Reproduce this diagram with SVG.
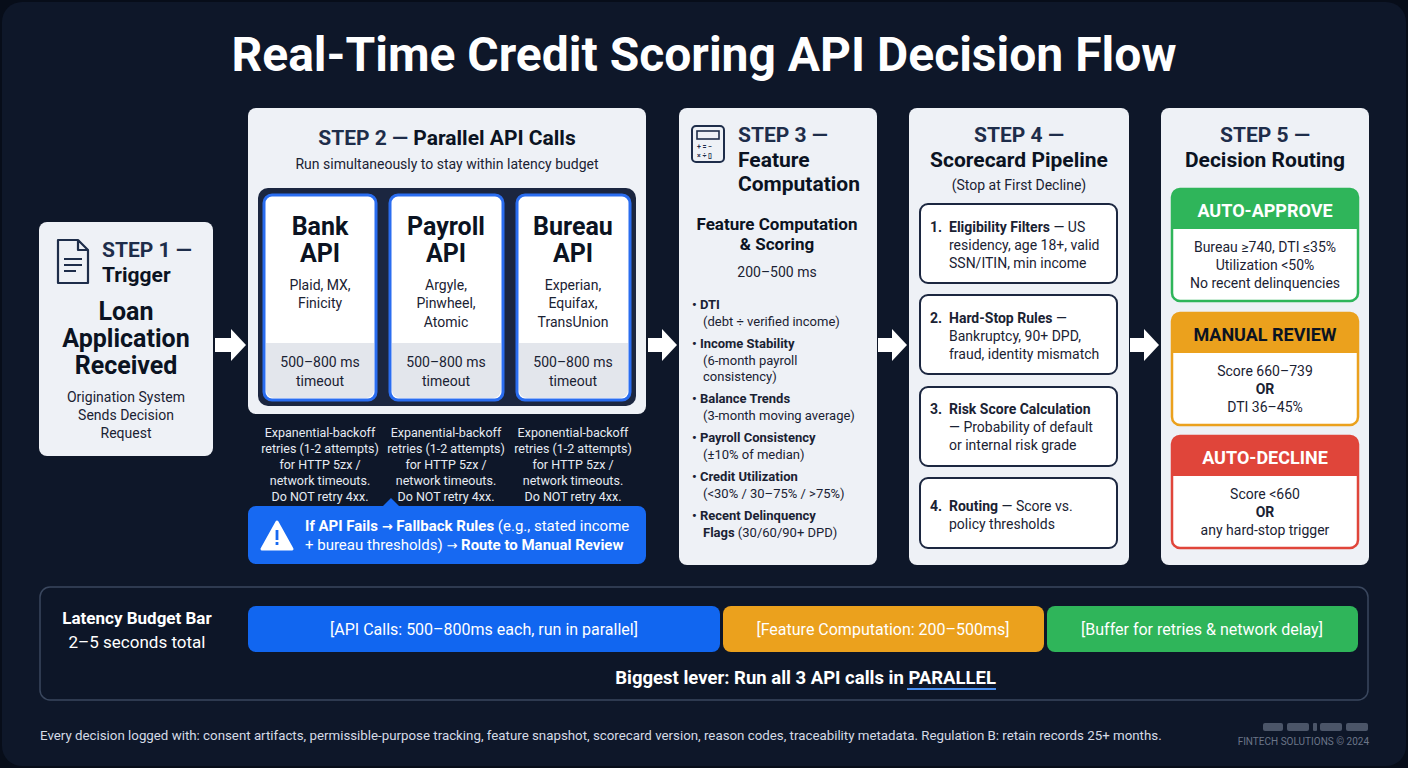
<svg xmlns="http://www.w3.org/2000/svg" width="1408" height="768" viewBox="0 0 1408 768">
<style>
text{font-family:Roboto,"Liberation Sans",sans-serif}
.card{fill:#eef1f6}
.hd{fill:#1e2d4a;font-weight:700;font-size:21px}
.hb{fill:#0b1322;font-weight:700}
.tx{fill:#1a2233;font-size:14px}
.wt{fill:#ffffff}
.sm{fill:#e6ebf3;font-size:12.5px}
.api{fill:#ffffff;stroke:#2a6df0;stroke-width:3}
.pb{fill:#ffffff;stroke:#1c2740;stroke-width:2}
.bl{fill:#1a2233;font-size:13px}
.ar{font-family:"DejaVu Sans",sans-serif;font-size:13px}
</style>
<rect width="1408" height="768" fill="#070d19"/>
<rect x="2" y="2" width="1404" height="764" rx="20" fill="#0e1729"/>
<text x="704" y="71" text-anchor="middle" class="wt" font-size="48" font-weight="700">Real-Time Credit Scoring API Decision Flow</text>

<g id="connectors" fill="#ffffff">
<polygon points="215,338 231,338 231,329 246,345 231,361 231,352 215,352"/>
<polygon points="648,338 662,338 662,329 677,345 662,361 662,352 648,352"/>
<polygon points="878,338 892,338 892,329 907,345 892,361 892,352 878,352"/>
<polygon points="1130,338 1144,338 1144,329 1159,345 1144,361 1144,352 1130,352"/>
</g>

<g id="step1">
<rect class="card" x="39" y="222" width="174" height="234" rx="8"/>
<path d="M58,240 h20 l10,10 v33 h-30 z M78,240 v10 h10" fill="none" stroke="#1e2d4a" stroke-width="2.2" stroke-linejoin="round"/>
<path d="M64,259 h18 M64,265 h18 M64,271 h12" stroke="#1e2d4a" stroke-width="2"/>
<text x="102" y="257" class="hd">STEP 1 —</text>
<text x="102" y="282" class="hb" font-size="21">Trigger</text>
<text x="126" y="320" text-anchor="middle" class="hb" font-size="25">Loan</text>
<text x="126" y="347" text-anchor="middle" class="hb" font-size="25">Application</text>
<text x="126" y="374" text-anchor="middle" class="hb" font-size="25">Received</text>
<text x="126" y="402" text-anchor="middle" class="tx">Origination System</text>
<text x="126" y="420" text-anchor="middle" class="tx">Sends Decision</text>
<text x="126" y="438" text-anchor="middle" class="tx">Request</text>
</g>

<g id="step2">
<rect class="card" x="248" y="108" width="398" height="306" rx="8"/>
<text x="447" y="145" text-anchor="middle" font-size="21" font-weight="700" fill="#1e2d4a">STEP 2 — <tspan fill="#0b1322">Parallel API Calls</tspan></text>
<text x="447" y="169" text-anchor="middle" class="tx">Run simultaneously to stay within latency budget</text>
<rect x="258" y="188" width="378" height="218" rx="10" fill="#1b2640"/>
</g>
<g id="bank">
<rect class="api" x="264" y="195" width="112" height="205" rx="8"/>
<path d="M266,343 h108 v47 a8,8 0 0 1 -8,8 h-92 a8,8 0 0 1 -8,-8 z" fill="#e3e6ec"/>
<text x="320" y="235" text-anchor="middle" class="hb" font-size="25">Bank</text>
<text x="320" y="262" text-anchor="middle" class="hb" font-size="25">API</text>
<text x="320" y="290" text-anchor="middle" class="tx" font-size="15.5">Plaid, MX,</text>
<text x="320" y="308" text-anchor="middle" class="tx" font-size="15.5">Finicity</text>
<text x="320" y="367" text-anchor="middle" class="tx" font-size="15">500–800 ms</text>
<text x="320" y="386" text-anchor="middle" class="tx" font-size="15">timeout</text>
</g>
<g id="payroll">
<rect class="api" x="390" y="195" width="113" height="205" rx="8"/>
<path d="M392,343 h109 v47 a8,8 0 0 1 -8,8 h-93 a8,8 0 0 1 -8,-8 z" fill="#e3e6ec"/>
<text x="446" y="235" text-anchor="middle" class="hb" font-size="25">Payroll</text>
<text x="446" y="262" text-anchor="middle" class="hb" font-size="25">API</text>
<text x="446" y="290" text-anchor="middle" class="tx" font-size="15.5">Argyle,</text>
<text x="446" y="308" text-anchor="middle" class="tx" font-size="15.5">Pinwheel,</text>
<text x="446" y="327" text-anchor="middle" class="tx" font-size="15.5">Atomic</text>
<text x="446" y="367" text-anchor="middle" class="tx" font-size="15">500–800 ms</text>
<text x="446" y="386" text-anchor="middle" class="tx" font-size="15">timeout</text>
</g>
<g id="bureau">
<rect class="api" x="517" y="195" width="113" height="205" rx="8"/>
<path d="M519,343 h109 v47 a8,8 0 0 1 -8,8 h-93 a8,8 0 0 1 -8,-8 z" fill="#e3e6ec"/>
<text x="573" y="235" text-anchor="middle" class="hb" font-size="25">Bureau</text>
<text x="573" y="262" text-anchor="middle" class="hb" font-size="25">API</text>
<text x="573" y="290" text-anchor="middle" class="tx" font-size="15.5">Experian,</text>
<text x="573" y="308" text-anchor="middle" class="tx" font-size="15.5">Equifax,</text>
<text x="573" y="327" text-anchor="middle" class="tx" font-size="15.5">TransUnion</text>
<text x="573" y="367" text-anchor="middle" class="tx" font-size="15">500–800 ms</text>
<text x="573" y="386" text-anchor="middle" class="tx" font-size="15">timeout</text>
</g>
<g id="retries" text-anchor="middle">
<text x="320" y="437" class="sm">Expanential-backoff</text>
<text x="320" y="453" class="sm">retries (1-2 attempts)</text>
<text x="320" y="469" class="sm">for HTTP 5zx /</text>
<text x="320" y="485" class="sm">network timeouts.</text>
<text x="320" y="501" class="sm">Do NOT retry 4xx.</text>
<text x="446" y="437" class="sm">Expanential-backoff</text>
<text x="446" y="453" class="sm">retries (1-2 attempts)</text>
<text x="446" y="469" class="sm">for HTTP 5zx /</text>
<text x="446" y="485" class="sm">network timeouts.</text>
<text x="446" y="501" class="sm">Do NOT retry 4xx.</text>
<text x="573" y="437" class="sm">Exponential-backoff</text>
<text x="573" y="453" class="sm">retries (1-2 attempts)</text>
<text x="573" y="469" class="sm">for HTTP 5zx /</text>
<text x="573" y="485" class="sm">network timeouts.</text>
<text x="573" y="501" class="sm">Do NOT retry 4xx.</text>
</g>
<g id="fallback">
<path d="M256,506 h127 l8,-8 l8,8 h239 a8,8 0 0 1 8,8 v42 a8,8 0 0 1 -8,8 h-382 a8,8 0 0 1 -8,-8 v-42 a8,8 0 0 1 8,-8 z" fill="#1769f2"/>
<path d="M277,522 l15,27 h-30 z" fill="#ffffff" stroke="#ffffff" stroke-width="3" stroke-linejoin="round"/>
<rect x="275.6" y="530" width="2.8" height="10" fill="#1769f2"/>
<rect x="275.6" y="542" width="2.8" height="3" fill="#1769f2"/>
<text x="305" y="531" class="wt" font-size="15"><tspan font-weight="700">If API Fails <tspan class="ar">→</tspan> Fallback Rules</tspan> (e.g., stated income</text>
<text x="305" y="550" class="wt" font-size="15">+ bureau thresholds) <tspan class="ar">→</tspan> <tspan font-weight="700">Route to Manual Review</tspan></text>
</g>

<g id="step3">
<rect class="card" x="679" y="108" width="198" height="457" rx="8"/>
<rect x="692" y="126" width="32" height="36" rx="4" fill="none" stroke="#1e2d4a" stroke-width="2"/>
<rect x="697" y="131" width="22" height="8" fill="none" stroke="#1e2d4a" stroke-width="1.6"/>
<text x="697" y="149" font-size="7" fill="#1e2d4a" font-weight="700">+ = −</text>
<text x="697" y="158" font-size="7" fill="#1e2d4a" font-weight="700">× ÷ ▯</text>
<text x="738" y="142" class="hd">STEP 3 —</text>
<text x="738" y="167" class="hb" font-size="21">Feature</text>
<text x="738" y="191" class="hb" font-size="21">Computation</text>
<text x="777" y="230" text-anchor="middle" class="hb" font-size="17">Feature Computation</text>
<text x="777" y="250" text-anchor="middle" class="hb" font-size="17">&amp; Scoring</text>
<text x="777" y="277" text-anchor="middle" class="tx">200–500 ms</text>
<g class="bl">
<text x="692" y="309" font-weight="700">• DTI</text>
<text x="703" y="326">(debt ÷ verified income)</text>
<text x="692" y="348" font-weight="700">• Income Stability</text>
<text x="703" y="365">(6-month payroll</text>
<text x="703" y="381">consistency)</text>
<text x="692" y="403" font-weight="700">• Balance Trends</text>
<text x="703" y="420">(3-month moving average)</text>
<text x="692" y="442" font-weight="700">• Payroll Consistency</text>
<text x="703" y="459">(±10% of median)</text>
<text x="692" y="481" font-weight="700">• Credit Utilization</text>
<text x="703" y="498">(&lt;30% / 30–75% / &gt;75%)</text>
<text x="692" y="520" font-weight="700">• Recent Delinquency</text>
<text x="703" y="537"><tspan font-weight="700">Flags</tspan> (30/60/90+ DPD)</text>
</g>
</g>

<g id="step4">
<rect class="card" x="909" y="108" width="220" height="457" rx="8"/>
<text x="1019" y="142" text-anchor="middle" class="hd">STEP 4 —</text>
<text x="1019" y="167" text-anchor="middle" class="hb" font-size="21">Scorecard Pipeline</text>
<text x="1019" y="190" text-anchor="middle" class="tx">(Stop at First Decline)</text>
<rect class="pb" x="920" y="204" width="197" height="79" rx="8"/>
<text x="930" y="232" class="tx" font-weight="700">1.</text>
<text x="949" y="232" class="tx"><tspan font-weight="700">Eligibility Filters</tspan> — US</text>
<text x="949" y="250" class="tx">residency, age 18+, valid</text>
<text x="949" y="268" class="tx">SSN/ITIN, min income</text>
<rect class="pb" x="920" y="295" width="197" height="79" rx="8"/>
<text x="930" y="323" class="tx" font-weight="700">2.</text>
<text x="949" y="323" class="tx"><tspan font-weight="700">Hard-Stop Rules</tspan> —</text>
<text x="949" y="341" class="tx">Bankruptcy, 90+ DPD,</text>
<text x="949" y="359" class="tx">fraud, identity mismatch</text>
<rect class="pb" x="920" y="387" width="197" height="79" rx="8"/>
<text x="930" y="414" class="tx" font-weight="700">3.</text>
<text x="949" y="414" class="tx" font-weight="700">Risk Score Calculation</text>
<text x="949" y="432" class="tx">— Probability of default</text>
<text x="949" y="450" class="tx">or internal risk grade</text>
<rect class="pb" x="920" y="478" width="197" height="70" rx="8"/>
<text x="930" y="511" class="tx" font-weight="700">4.</text>
<text x="949" y="511" class="tx"><tspan font-weight="700">Routing</tspan> — Score vs.</text>
<text x="949" y="529" class="tx">policy thresholds</text>
</g>

<g id="step5">
<rect class="card" x="1161" y="108" width="208" height="457" rx="8"/>
<text x="1265" y="142" text-anchor="middle" class="hd">STEP 5 —</text>
<text x="1265" y="167" text-anchor="middle" class="hb" font-size="21">Decision Routing</text>
</g>
<g id="approve">
<rect x="1172" y="189" width="186" height="112" rx="8" fill="#ffffff" stroke="#2fb55a" stroke-width="2.5"/>
<path d="M1172,229 v-32 a8,8 0 0 1 8,-8 h170 a8,8 0 0 1 8,8 v32 z" fill="#2fb55a"/>
<text x="1265" y="217" text-anchor="middle" class="wt" font-size="18" font-weight="700">AUTO-APPROVE</text>
<text x="1265" y="252" text-anchor="middle" class="tx">Bureau ≥740, DTI ≤35%</text>
<text x="1265" y="270" text-anchor="middle" class="tx">Utilization &lt;50%</text>
<text x="1265" y="288" text-anchor="middle" class="tx">No recent delinquencies</text>
</g>
<g id="manual">
<rect x="1172" y="313" width="186" height="112" rx="8" fill="#ffffff" stroke="#eba11d" stroke-width="2.5"/>
<path d="M1172,353 v-32 a8,8 0 0 1 8,-8 h170 a8,8 0 0 1 8,8 v32 z" fill="#eba11d"/>
<text x="1265" y="341" text-anchor="middle" class="hb" font-size="18">MANUAL REVIEW</text>
<text x="1265" y="376" text-anchor="middle" class="tx">Score 660–739</text>
<text x="1265" y="394" text-anchor="middle" class="tx" font-weight="700">OR</text>
<text x="1265" y="412" text-anchor="middle" class="tx">DTI 36–45%</text>
</g>
<g id="decline">
<rect x="1172" y="436" width="186" height="112" rx="8" fill="#ffffff" stroke="#e0453a" stroke-width="2.5"/>
<path d="M1172,476 v-32 a8,8 0 0 1 8,-8 h170 a8,8 0 0 1 8,8 v32 z" fill="#e0453a"/>
<text x="1265" y="464" text-anchor="middle" class="wt" font-size="18" font-weight="700">AUTO-DECLINE</text>
<text x="1265" y="499" text-anchor="middle" class="tx">Score &lt;660</text>
<text x="1265" y="517" text-anchor="middle" class="tx" font-weight="700">OR</text>
<text x="1265" y="535" text-anchor="middle" class="tx">any hard-stop trigger</text>
</g>

<g id="latency">
<rect x="40" y="587" width="1328" height="113" rx="10" fill="#0d1628" stroke="#3a475e" stroke-width="1.5"/>
<text x="137" y="624" text-anchor="middle" class="wt" font-size="17" font-weight="700">Latency Budget Bar</text>
<text x="137" y="648" text-anchor="middle" class="wt" font-size="17">2–5 seconds total</text>
<rect x="248" y="606" width="472" height="46" rx="8" fill="#1166f0"/>
<rect x="723" y="606" width="321" height="46" rx="8" fill="#eba11d"/>
<rect x="1047" y="606" width="311" height="46" rx="8" fill="#2fb55a"/>
<text x="484" y="635" text-anchor="middle" class="wt" font-size="16">[API Calls: 500–800ms each, run in parallel]</text>
<text x="883" y="635" text-anchor="middle" class="wt" font-size="16">[Feature Computation: 200–500ms]</text>
<text x="1202" y="635" text-anchor="middle" class="wt" font-size="16">[Buffer for retries &amp; network delay]</text>
<text x="996" y="684" text-anchor="end" class="wt" font-size="18.5" font-weight="700">Biggest lever: Run all 3 API calls in PARALLEL</text>
<rect x="907" y="688" width="89" height="2" fill="#4a90f0"/>
</g>

<g id="footer">
<text x="40" y="740" fill="#d5dbe6" font-size="13.3">Every decision logged with: consent artifacts, permissible-purpose tracking, feature snapshot, scorecard version, reason codes, traceability metadata. Regulation B: retain records 25+ months.</text>
<rect x="1263" y="723" width="20" height="8" rx="2" fill="#4b5568"/>
<rect x="1287" y="723" width="22" height="8" rx="2" fill="#4b5568"/>
<rect x="1313" y="723" width="4" height="8" rx="1" fill="#4b5568"/>
<rect x="1320" y="723" width="22" height="8" rx="2" fill="#4b5568"/>
<rect x="1346" y="723" width="22" height="8" rx="2" fill="#4b5568"/>
<text x="1369" y="745" text-anchor="end" fill="#6b7588" font-size="10">FINTECH SOLUTIONS © 2024</text>
</g>
</svg>
